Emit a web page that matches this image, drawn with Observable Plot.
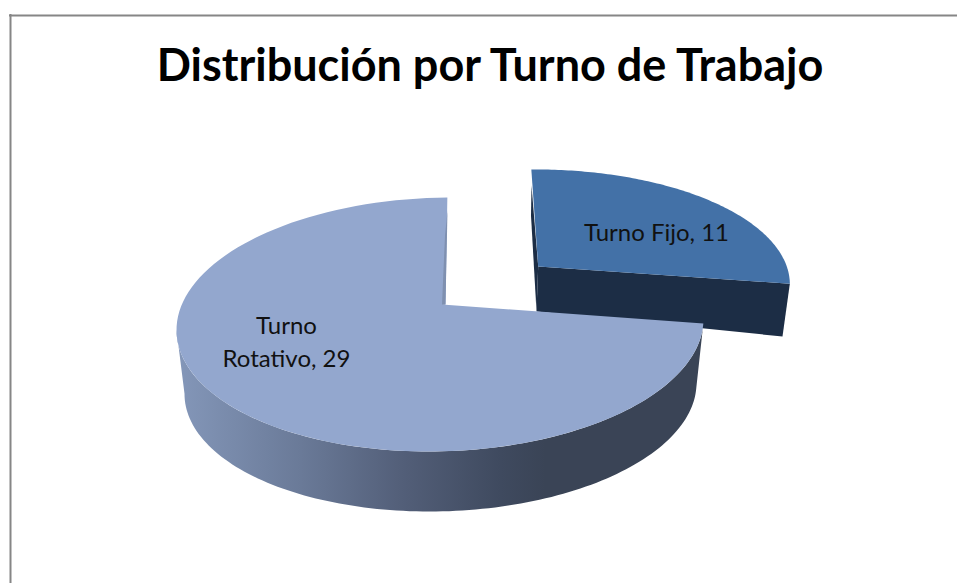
<!DOCTYPE html>
<html>
<head>
<meta charset="utf-8">
<script src="https://cdn.jsdelivr.net/npm/d3@7"></script>
<script src="https://cdn.jsdelivr.net/npm/@observablehq/plot@0.6"></script>
<style>html,body{margin:0;padding:0;background:#fff;overflow:hidden}svg{display:block}</style>
</head>
<body>
<script>
const chartTitle = "Distribución por Turno de Trabajo";
const categories = ["Turno Fijo", "Turno Rotativo"];
const values = [11, 29];
const labelLines = ["Turno Fijo, 11", "Turno\nRotativo, 29"];
const labelAt = [[656, 230], [286, 339]];

const rad = Math.PI / 180;
const split = values[0] / d3.sum(values) * 360;
const t0 = 271.6, tSplit = 362;
const angle = th => th <= split
  ? t0 + th * (tSplit - t0) / split
  : tSplit + (th - split) * (t0 + 360 - tSplit) / (360 - split);

// oblique view of the disc: ellipse of the top face and of the underside
const rim = (t, cx, rx, cy, ry) => ({x: cx + rx * Math.cos(t * rad), y: cy + ry * Math.sin((t - 2.5) * rad)});
const upperRim = t => rim(t, 439.5, 263.5, 324, 127);
const lowerRim = t => rim(t, 440, 256, 388, 123);
const apexBig = {x: 445, y: 304};

const steps = (a, b, n = 120) => d3.range(n + 1).map(i => a + (b - a) * i / n);

// big slice
const bigArc = steps(split, 360).map(th => upperRim(angle(th)));
const bigFace = [{x: 441.5, y: 304}, ...bigArc, {x: 445, y: 304}];
const bigWall = [
  ...steps(2, 180).map(t => upperRim(t)),
  ...steps(180, 2).map(t => lowerRim(t))
];
const bigCut = [{x: 447, y: 210}, {x: 445, y: 304}, {x: 441.5, y: 304}, {x: 444.5, y: 235}];

// small slice: same rim, pulled out along its bisector
const apexSmall = {x: 537.7, y: 266};
const moved = p => ({
  x: apexSmall.x + 0.97 * (p.x - apexBig.x) + 0.081 * (p.y - apexBig.y),
  y: apexSmall.y + 0.907 * (p.y - apexBig.y)
});
const smallArc = steps(0, split).map(th => moved(upperRim(angle(th))));
const smallFace = [apexSmall, ...smallArc];
const tip = smallArc[smallArc.length - 1];
const apexLow = {x: 536, y: 311};
const smallWall = [apexSmall, tip, {x: 782, y: 336}, apexLow];
const smallCut = [{x: 531, y: 185}, {x: 530.5, y: 215}, apexLow, apexSmall];

const wallStops = [[176, "#8497b9"], [300, "#6a7a98"], [400, "#535f79"], [500, "#3f4a5f"], [545, "#3a4456"], [710, "#3a4456"]];

const poly = (pts, fill) => Plot.line(pts, {x: "x", y: "y", fill, stroke: "none"});

const gradient = () => {
  const defs = d3.create("svg:defs");
  const g = defs.append("linearGradient").attr("id", "wallGrad")
    .attr("gradientUnits", "userSpaceOnUse")
    .attr("x1", wallStops[0][0]).attr("x2", wallStops[wallStops.length - 1][0]).attr("y1", 0).attr("y2", 0);
  const span = wallStops[wallStops.length - 1][0] - wallStops[0][0];
  for (const [x, c] of wallStops) g.append("stop").attr("offset", (x - wallStops[0][0]) / span).attr("stop-color", c);
  return defs.node();
};

const chart = Plot.plot({
  width: 957, height: 583,
  margin: 0,
  x: {domain: [0, 957], range: [0, 957], axis: null},
  y: {domain: [0, 583], range: [0, 583], axis: null},
  style: {background: "#fff"},
  marks: [
    gradient,
    Plot.ruleX([10], {y1: 14, y2: 583, stroke: "#868686", strokeWidth: 2}),
    Plot.ruleY([15], {x1: 9, x2: 957, stroke: "#868686", strokeWidth: 2}),
    poly(smallWall, "#1c2d45"),
    poly(smallCut, "#1c2d45"),
    poly(smallFace, "#4371a7"),
    poly(bigWall, "url(#wallGrad)"),
    poly(bigFace, "#93a7ce"),
    poly(bigCut, "#7f90b0"),
    Plot.text([chartTitle], {x: 489.5, y: 66, text: d => d, fontFamily: "Lato", fontWeight: 700, fontSize: 45, fill: "#000"}),
    Plot.text(labelLines, {
      x: (d, i) => labelAt[i][0], y: (d, i) => labelAt[i][1], text: d => d,
      fontFamily: "Lato", fontSize: 24, fill: "#111", lineHeight: 1.375
    })
  ]
});
document.body.appendChild(chart);
</script>
</body>
</html>
